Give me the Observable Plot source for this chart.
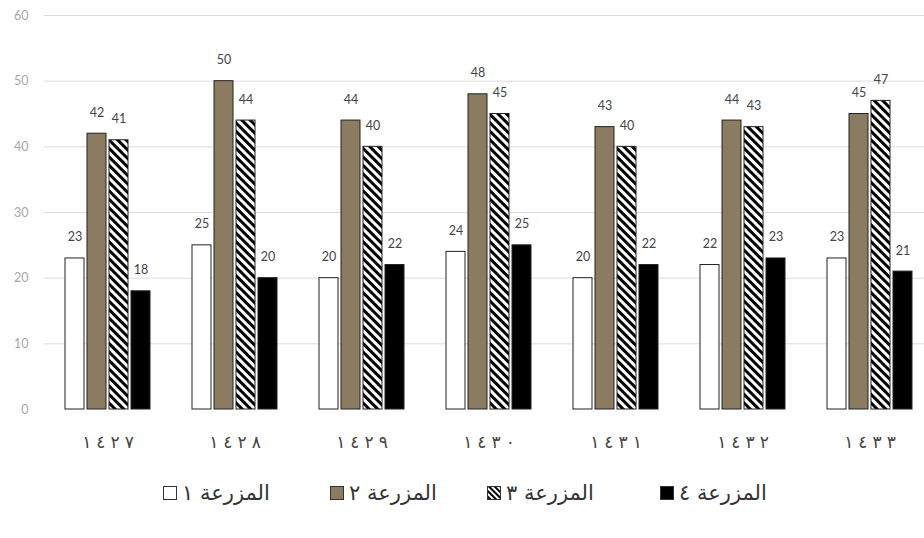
<!DOCTYPE html>
<html>
<head>
<meta charset="utf-8">
<script src="https://cdn.jsdelivr.net/npm/d3@7"></script>
<script src="https://cdn.jsdelivr.net/npm/@observablehq/plot@0.6"></script>
<style>
  html, body { margin: 0; padding: 0; background: #ffffff; overflow: hidden; }
  #chart svg { display: block; overflow: visible; }
  .legend { display: flex; align-items: center; margin-left: 163px; margin-top: 32px; direction: ltr; }
  .item { display: flex; align-items: center; }
  .lab { font-family: "DejaVu Sans", sans-serif; font-size: 21px; color: #333; direction: rtl; unicode-bidi: isolate; }
</style>
</head>
<body>
<div id="chart"></div>
<div class="legend" id="legend"></div>
<script>
const years = ["١٤٢٧", "١٤٢٨", "١٤٢٩", "١٤٣٠", "١٤٣١", "١٤٣٢", "١٤٣٣"];
const farms = ["المزرعة ١", "المزرعة ٢", "المزرعة ٣", "المزرعة ٤"];
const farm1 = [23, 25, 20, 24, 20, 22, 23];
const farm2 = [42, 50, 44, 48, 43, 44, 45];
const farm3 = [41, 44, 40, 45, 40, 43, 47];
const farm4 = [18, 20, 22, 25, 22, 23, 21];
const yTicks = [0, 10, 20, 30, 40, 50, 60];
const gridLines = [10, 20, 30, 40, 50, 60];
const farmFills = ["#ffffff", "#8b7b60", "url(#hatch)", "#000000"];

const series = [farm1, farm2, farm3, farm4];
const data = [];
years.forEach((yr, i) => {
  farms.forEach((f, j) => data.push({ year: yr, farm: f, value: series[j][i] }));
});

const svg = Plot.plot({
  width: 924,
  height: 449,
  marginTop: 15,
  marginBottom: 40,
  marginLeft: 43,
  marginRight: 0,
  style: { fontFamily: "Lato, 'Open Sans', sans-serif", background: "transparent" },
  fx: { domain: years, range: [43, 933], padding: 0, axis: "bottom", tickSize: 0, tickPadding: 26, label: null },
  x: { domain: farms, axis: null, paddingInner: 0.15, paddingOuter: 0.864 },
  y: { domain: [0, 60], ticks: yTicks, tickSize: 0, tickPadding: 16, label: null },
  color: { domain: farms, range: farmFills },
  marks: [
    Plot.ruleY(gridLines, { stroke: "#dcdcdc", strokeWidth: 1 }),
    Plot.barY(data, { fx: "year", x: "farm", y: "value", fill: "farm", stroke: "#222", strokeWidth: 1 }),
    Plot.text(data, { fx: "year", x: "farm", y: "value", text: d => String(d.value), dy: -21, fill: "#444", fontSize: 12.5 })
  ]
});

const defs = d3.select(svg).insert("defs", ":first-child");
const pat = defs.append("pattern")
  .attr("id", "hatch")
  .attr("patternUnits", "userSpaceOnUse")
  .attr("width", 6).attr("height", 6)
  .attr("patternTransform", "rotate(-45)");
pat.append("rect").attr("width", 6).attr("height", 6).attr("fill", "#ffffff");
pat.append("rect").attr("x", 0).attr("width", 3).attr("height", 6).attr("fill", "#000000");

// style the fx tick labels: spaced-out Arabic-Indic digits
d3.select(svg).selectAll('g[aria-label^="fx-axis"] text').each(function () {
  const t = d3.select(this);
  const s = this.textContent;
  t.text(null)
    .style("font-family", "'DejaVu Sans', sans-serif")
    .style("font-size", "17px")
    .attr("fill", "#444");
  Array.from(s).forEach((ch, k) => {
    t.append("tspan").attr("dx", k === 0 ? 0 : 5).text(ch);
  });
});
d3.select(svg).selectAll('g[aria-label^="y-axis"] text')
  .style("font-size", "12.5px")
  .attr("fill", "#a8a8a8");

document.getElementById("chart").appendChild(svg);

const itemWidths = [167, 157, 173, null];
const legend = document.getElementById("legend");
farms.forEach((f, i) => {
  const item = document.createElement("div");
  item.className = "item";
  if (itemWidths[i]) item.style.width = itemWidths[i] + "px";
  const box = document.createElementNS("http://www.w3.org/2000/svg", "svg");
  box.setAttribute("width", 14); box.setAttribute("height", 14);
  box.style.marginRight = "5px";
  box.innerHTML = `<defs><pattern id="lh${i}" patternUnits="userSpaceOnUse" width="4" height="4" patternTransform="rotate(-45)"><rect width="4" height="4" fill="#fff"/><rect width="2" height="4" fill="#000"/></pattern></defs>` +
    `<rect x="0.5" y="0.5" width="13" height="13" fill="${i === 2 ? `url(#lh${i})` : farmFills[i]}" stroke="#333" stroke-width="1"/>`;
  const lab = document.createElement("span");
  lab.className = "lab";
  lab.textContent = f;
  item.appendChild(box);
  item.appendChild(lab);
  legend.appendChild(item);
});
</script>
</body>
</html>
